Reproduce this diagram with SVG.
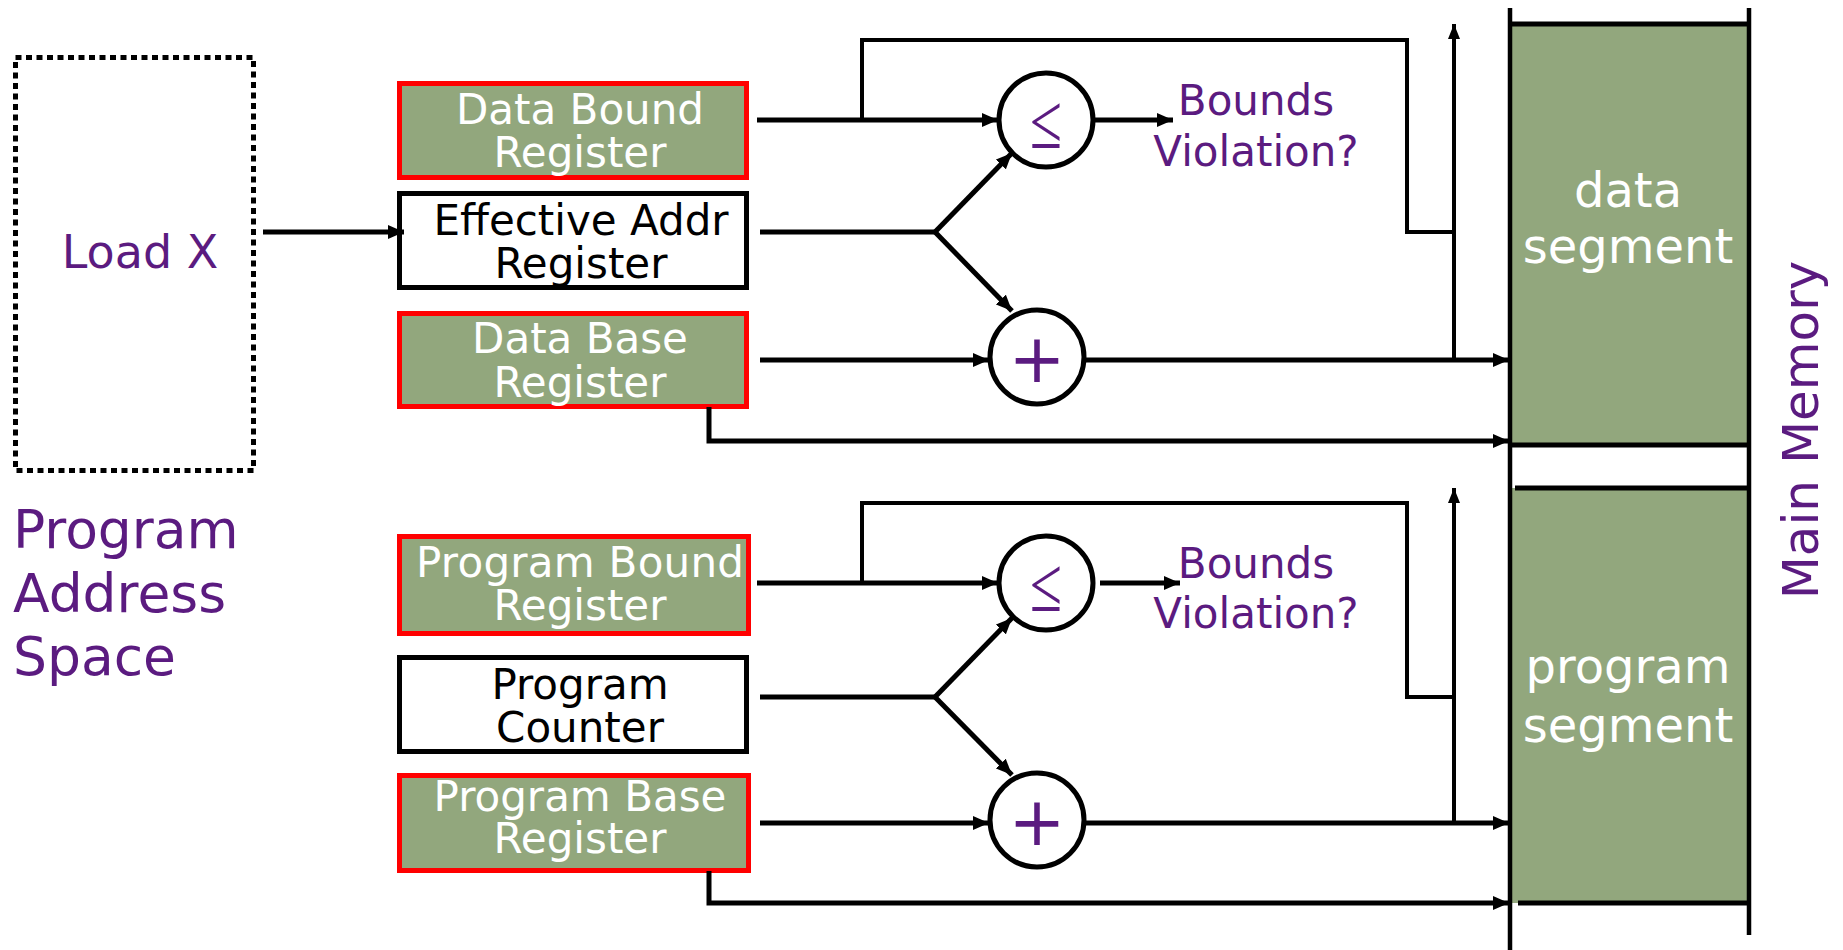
<svg xmlns="http://www.w3.org/2000/svg" width="1843" height="950" viewBox="0 0 1843 950">
<style>
  text { font-family: "DejaVu Sans", Verdana, sans-serif; }
  .reg { fill: #92A77D; stroke: #FF0000; stroke-width: 5; }
  .plain { fill: #FFFFFF; stroke: #000000; stroke-width: 5; }
  .wt { fill: #FFFFFF; font-size: 42px; text-anchor: middle; }
  .bt { fill: #000000; font-size: 42px; text-anchor: middle; }
  .pt { fill: #5B1B80; }
  .le { fill: #5B1B80; font-family: "Liberation Serif", "Times New Roman", serif; font-size: 78px; text-anchor: middle; }
  .ln { fill: none; stroke: #000000; stroke-width: 5; stroke-linejoin: miter; }
  .thin { fill: none; stroke: #000000; stroke-width: 4; }
  .op { fill: #FFFFFF; stroke: #000000; stroke-width: 5; }
  .seg { fill: #92A77D; stroke: none; }
</style>
<defs>
  <marker id="ah" markerUnits="userSpaceOnUse" markerWidth="18" markerHeight="14" refX="16" refY="7" orient="auto">
    <path d="M0,0 L16,7 L0,14 Z" fill="#000000"/>
  </marker>
  <marker id="ahs" markerUnits="userSpaceOnUse" markerWidth="16" markerHeight="12" refX="15" refY="6" orient="auto">
    <path d="M0,0 L15,6 L0,12 Z" fill="#000000"/>
  </marker>
</defs>

<g id="program-address-space">
  <rect x="15.5" y="57.5" width="238" height="413" fill="none" stroke="#000000" stroke-width="5" stroke-dasharray="6 4.5"/>
  <text x="140" y="268" class="pt" font-size="46" text-anchor="middle">Load X</text>
  <text class="pt" font-size="53.5"><tspan x="13" y="548">Program</tspan><tspan x="13" y="612">Address</tspan><tspan x="13" y="675">Space</tspan></text>
</g>

<g id="data-bound-register">
  <rect class="reg" x="399.5" y="83.5" width="347" height="94"/>
  <text class="wt"><tspan x="580" y="124">Data Bound</tspan><tspan x="580" y="167">Register</tspan></text>
</g>
<g id="effective-addr-register">
  <rect class="plain" x="399.5" y="193.5" width="347" height="94"/>
  <text class="bt"><tspan x="581" y="235">Effective Addr</tspan><tspan x="581" y="278">Register</tspan></text>
</g>
<g id="data-base-register">
  <rect class="reg" x="399.5" y="313.5" width="347" height="93"/>
  <text class="wt"><tspan x="580" y="353">Data Base</tspan><tspan x="580" y="397">Register</tspan></text>
</g>

<g id="program-bound-register">
  <rect class="reg" x="399.5" y="536.5" width="349" height="97"/>
  <text class="wt"><tspan x="580" y="577" textLength="328" lengthAdjust="spacing">Program Bound</tspan><tspan x="580" y="620">Register</tspan></text>
</g>
<g id="program-counter">
  <rect class="plain" x="399.5" y="657.5" width="347" height="94"/>
  <text class="bt"><tspan x="580" y="699">Program</tspan><tspan x="580" y="742">Counter</tspan></text>
</g>
<g id="program-base-register">
  <rect class="reg" x="399.5" y="775.5" width="349" height="95"/>
  <text class="wt"><tspan x="580" y="811">Program Base</tspan><tspan x="580" y="853">Register</tspan></text>
</g>

<g id="data-compare">
  <circle class="op" cx="1046" cy="120" r="47"/>
  <text class="le" transform="translate(1046,148) scale(0.75,1)" x="0" y="0">≤</text>
</g>
<g id="data-add">
  <circle class="op" cx="1037" cy="357" r="47"/>
  <text x="1037" y="382" class="pt" font-size="68" text-anchor="middle">+</text>
</g>
<g id="program-compare">
  <circle class="op" cx="1046" cy="583" r="47"/>
  <text class="le" transform="translate(1046,611) scale(0.75,1)" x="0" y="0">≤</text>
</g>
<g id="program-add">
  <circle class="op" cx="1037" cy="820" r="47"/>
  <text x="1037" y="845" class="pt" font-size="68" text-anchor="middle">+</text>
</g>

<g id="data-bounds-violation">
  <text class="pt" font-size="42" text-anchor="middle"><tspan x="1256" y="115">Bounds</tspan><tspan x="1256" y="166">Violation?</tspan></text>
</g>
<g id="program-bounds-violation">
  <text class="pt" font-size="42" text-anchor="middle"><tspan x="1256" y="578">Bounds</tspan><tspan x="1256" y="628">Violation?</tspan></text>
</g>

<g id="main-memory">
  <rect class="seg" x="1512" y="24" width="236" height="421"/>
  <rect class="seg" x="1512" y="488" width="236" height="415"/>
  <line x1="1510" y1="8" x2="1510" y2="950" stroke="#000" stroke-width="4.5"/>
  <line x1="1749" y1="8" x2="1749" y2="935" stroke="#000" stroke-width="4.5"/>
  <line x1="1512" y1="24" x2="1749" y2="24" stroke="#000" stroke-width="5"/>
  <line x1="1512" y1="445" x2="1749" y2="445" stroke="#000" stroke-width="5"/>
  <line x1="1515" y1="488" x2="1749" y2="488" stroke="#000" stroke-width="5"/>
  <line x1="1518" y1="903" x2="1749" y2="903" stroke="#000" stroke-width="5"/>
  <text fill="#FFFFFF" font-size="48" text-anchor="middle"><tspan x="1628" y="207">data</tspan><tspan x="1628" y="263">segment</tspan></text>
  <text fill="#FFFFFF" font-size="48" text-anchor="middle"><tspan x="1628" y="683">program</tspan><tspan x="1628" y="742">segment</tspan></text>
  <text class="pt" font-size="50" text-anchor="middle" transform="translate(1818,430) rotate(-90)" x="0" y="0">Main Memory</text>
</g>

<g id="connectors">
  <line class="ln" x1="263" y1="232" x2="404" y2="232" marker-end="url(#ah)"/>
  <line class="ln" x1="757" y1="120" x2="998" y2="120" marker-end="url(#ah)"/>
  <polyline class="thin" points="862,120 862,40 1407,40 1407,232 1454,232"/>
  <line class="thin" x1="1454" y1="360" x2="1454" y2="24" marker-end="url(#ahs)"/>
  <line class="ln" x1="760" y1="232" x2="935" y2="232"/>
  <line class="ln" x1="935" y1="232" x2="1012" y2="153" marker-end="url(#ah)"/>
  <line class="ln" x1="935" y1="232" x2="1012" y2="311" marker-end="url(#ah)"/>
  <line class="ln" x1="1093" y1="120" x2="1173" y2="120" marker-end="url(#ah)"/>
  <line class="ln" x1="760" y1="360" x2="989" y2="360" marker-end="url(#ah)"/>
  <line class="ln" x1="1084" y1="360" x2="1509" y2="360" marker-end="url(#ah)"/>
  <polyline class="ln" points="709,407 709,441 1509,441" marker-end="url(#ah)"/>
  <line class="ln" x1="757" y1="583" x2="998" y2="583" marker-end="url(#ah)"/>
  <polyline class="thin" points="862,583 862,503 1407,503 1407,697 1454,697"/>
  <line class="thin" x1="1454" y1="823" x2="1454" y2="488" marker-end="url(#ahs)"/>
  <line class="ln" x1="760" y1="697" x2="935" y2="697"/>
  <line class="ln" x1="935" y1="697" x2="1012" y2="618" marker-end="url(#ah)"/>
  <line class="ln" x1="935" y1="697" x2="1012" y2="775" marker-end="url(#ah)"/>
  <line class="ln" x1="1100" y1="583" x2="1180" y2="583" marker-end="url(#ah)"/>
  <line class="ln" x1="760" y1="823" x2="989" y2="823" marker-end="url(#ah)"/>
  <line class="ln" x1="1084" y1="823" x2="1509" y2="823" marker-end="url(#ah)"/>
  <polyline class="ln" points="709,871 709,903 1509,903" marker-end="url(#ah)"/>
</g>
</svg>
